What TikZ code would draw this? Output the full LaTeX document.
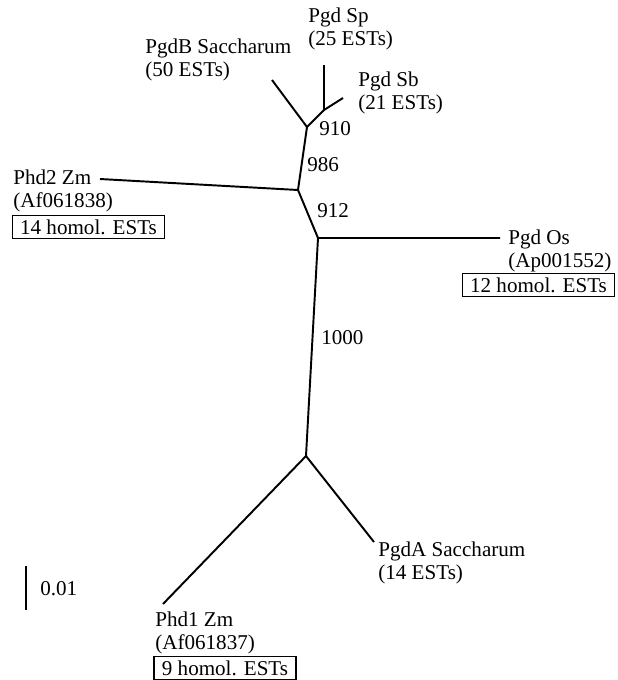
\documentclass[tikz,border=0pt]{standalone}
\usepackage{fontspec}
\setmainfont{Liberation Serif}
\tikzset{branch/.style={line width=1.1pt}}
\tikzset{taxon/.style={inner sep=0pt,align=left,anchor=north west,font=\fontsize{12}{12.6}\selectfont}}
\tikzset{boot/.style={inner sep=0pt,anchor=west,font=\fontsize{12}{12.6}\selectfont}}
\tikzset{homol/.style={draw,line width=0.6pt,inner xsep=4.5pt,inner ysep=2.5pt,font=\fontsize{12}{12.6}\selectfont}}

\begin{document}
\begin{tikzpicture}[x=0.02cm,y=-0.02cm]
        \useasboundingbox (0,0) rectangle (618,680);
        % inner nodes of the tree
        \coordinate (spsb) at (324,110);
        \coordinate (n910) at (307,127);
        \coordinate (n986) at (298,190);
        \coordinate (n912) at (318,238);
        \coordinate (root) at (306,456);
        % tips
        \coordinate (sp) at (324,65);
        \coordinate (sb) at (343,98);
        \coordinate (pgdb) at (272,80);
        \coordinate (phd2) at (100,179);
        \coordinate (os) at (500,238);
        \coordinate (pgda) at (374,542);
        \coordinate (phd1) at (163,604);
        
        % draw the branches
        \draw[branch] (sp) -- (spsb) -- (sb);
        \draw[branch] (spsb) -- (n910) -- (pgdb);
        \draw[branch] (n910) -- (n986) -- (phd2);
        \draw[branch] (n986) -- (n912) -- (os);
        \draw[branch] (n912) -- (root) -- (pgda);
        \draw[branch] (root) -- (phd1);
        
        % bootstrap values
        \node[boot] (b910) at (319,129) {910};
        \node[boot] (b986) at (307,165) {986};
        \node[boot] (b912) at (317,211) {912};
        \node[boot] (b1000) at (321,338) {1000};
        
        % taxa
        \node[taxon] (sptext) at (308,8) {Pgd Sp\\(25 ESTs)};
        \node[taxon] (pgdbtext) at (145,39) {PgdB Saccharum\\(50 ESTs)};
        \node[taxon] (sbtext) at (358,72) {Pgd Sb\\(21 ESTs)};
        \node[taxon] (phd2text) at (13,170) {Phd2 Zm\\(Af061838)};
        \node[homol] (phd2box) at (88.5,227) {14 homol. ESTs};
        \node[taxon] (ostext) at (508,230) {Pgd Os\\(Ap001552)};
        \node[homol] (osbox) at (538.5,285) {12 homol. ESTs};
        \node[taxon] (pgdatext) at (378,542) {PgdA Saccharum\\(14 ESTs)};
        \node[taxon] (phd1text) at (155,612) {Phd1 Zm\\(Af061837)};
        \node[homol] (phd1box) at (225,668) {9 homol. ESTs};
        
        % scale bar
        \coordinate (bartop) at (26,566);
        \coordinate (barbot) at (26,610);
        \draw[branch] (bartop) -- (barbot);
        \node[boot] (barlabel) at (40,589) {0.01};
\end{tikzpicture}
\end{document}
